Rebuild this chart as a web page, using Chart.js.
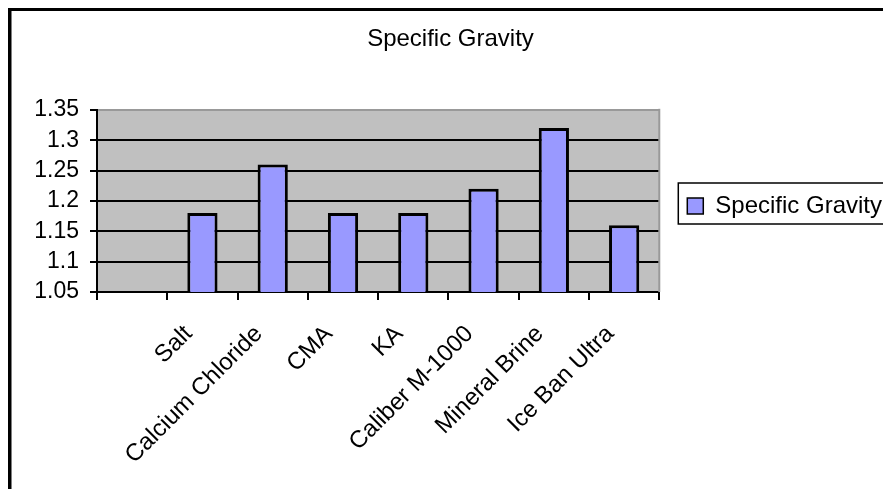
<!DOCTYPE html>
<html><head><meta charset="utf-8">
<script src="https://cdn.jsdelivr.net/npm/chart.js@4/dist/chart.umd.min.js"></script>
<style>html,body{margin:0;padding:0;background:#fff;} #wrap{width:883px;height:489px;position:relative;overflow:hidden;}</style>
</head><body><div id="wrap"><canvas id="c" width="883" height="489"></canvas></div>
<script>
const categories = ['', 'Salt', 'Calcium Chloride', 'CMA', 'KA', 'Caliber M-1000', 'Mineral Brine', 'Ice Ban Ultra'];
const specificGravity = [null, 1.18, 1.26, 1.18, 1.18, 1.22, 1.32, 1.16];
const yTickValues = [1.05, 1.1, 1.15, 1.2, 1.25, 1.3, 1.35];
const yTickLabels = ['1.05', '1.1', '1.15', '1.2', '1.25', '1.3', '1.35'];
const seriesName = 'Specific Gravity';
const chartTitle = 'Specific Gravity';

Chart.defaults.font.family = "'Liberation Sans', Arial, sans-serif";
Chart.defaults.color = '#000';

const decor = {
  id: 'decor',
  beforeDraw(chart) {
    const {ctx, chartArea: a} = chart;
    ctx.save();
    ctx.fillStyle = '#C0C0C0';
    ctx.fillRect(a.left, a.top, a.right - a.left, a.bottom - a.top);
    ctx.restore();
  },
  beforeDatasetsDraw(chart) {
    const {ctx, chartArea: a} = chart;
    ctx.save();
    ctx.strokeStyle = '#999999';
    ctx.lineWidth = 2;
    ctx.beginPath();
    ctx.moveTo(a.right, a.top - 1);
    ctx.lineTo(a.right, a.bottom);
    ctx.stroke();
    ctx.restore();
  },
  afterDraw(chart) {
    const {ctx} = chart;
    ctx.save();
    ctx.fillStyle = '#000';
    ctx.fillRect(8, 8, 3.5, chart.height);
    ctx.fillRect(8, 8, chart.width, 3);
    const hb = chart.legend.legendHitBoxes[0];
    if (hb) {
      const cy = hb.top + hb.height / 2;
      ctx.strokeStyle = '#000';
      ctx.lineWidth = 1.5;
      ctx.strokeRect(hb.left - 9, cy - 23, chart.width, 41);
    }
    ctx.restore();
  }
};

new Chart(document.getElementById('c'), {
  type: 'bar',
  data: {
    labels: categories,
    datasets: [{
      label: seriesName,
      data: specificGravity,
      backgroundColor: '#9999FF',
      borderColor: '#000',
      borderWidth: 3,
      borderSkipped: false,
      categoryPercentage: 0.43,
      barPercentage: 1
    }]
  },
  options: {
    responsive: false,
    animation: false,
    devicePixelRatio: 1,
    layout: {padding: {left: 9, right: -9, top: 0, bottom: 0}},
    plugins: {
      title: {
        display: true, text: chartTitle, color: '#000',
        font: {size: 24, weight: 'normal'},
        padding: {top: 25, bottom: 56}
      },
      legend: {
        display: true, position: 'right', fullSize: false, align: 'center',
        maxWidth: 260,
        title: {display: true, text: '', font: {size: 1}, padding: {top: 9, bottom: 0}},
        labels: {
          boxWidth: 16, boxHeight: 16, padding: 28, color: '#000',
          font: {size: 24},
          generateLabels(chart) {
            return Chart.defaults.plugins.legend.labels.generateLabels(chart).map(l => Object.assign(l, {lineWidth: 1.5}));
          }
        }
      },
      tooltip: {enabled: false}
    },
    scales: {
      x: {
        type: 'category',
        offset: true,
        grid: {offset: true, drawOnChartArea: false, drawTicks: true, tickLength: 8, tickColor: '#000', lineWidth: 2},
        border: {display: true, color: '#000', width: 2},
        ticks: {autoSkip: false, minRotation: 45, maxRotation: 45, padding: 20, labelOffset: -14, color: '#000', font: {size: 24}},
        afterFit(s) { s.height = 197; }
      },
      y: {
        min: 1.05, max: 1.35,
        ticks: {
          autoSkip: false,
          stepSize: 0.05, padding: 11, color: '#000', font: {size: 23},
          callback(value) {
            const i = yTickValues.findIndex(v => Math.abs(v - value) < 1e-6);
            return i >= 0 ? yTickLabels[i] : '';
          }
        },
        grid: {
          color: c => (c.tick && Math.abs(c.tick.value - 1.35) < 1e-6) ? '#999999' : '#000',
          lineWidth: 2, tickLength: 7, tickColor: '#000'
        },
        border: {color: '#000', width: 2},
        afterFit(s) { s.width = 88; }
      }
    }
  },
  plugins: [decor]
});
</script>
</body></html>
